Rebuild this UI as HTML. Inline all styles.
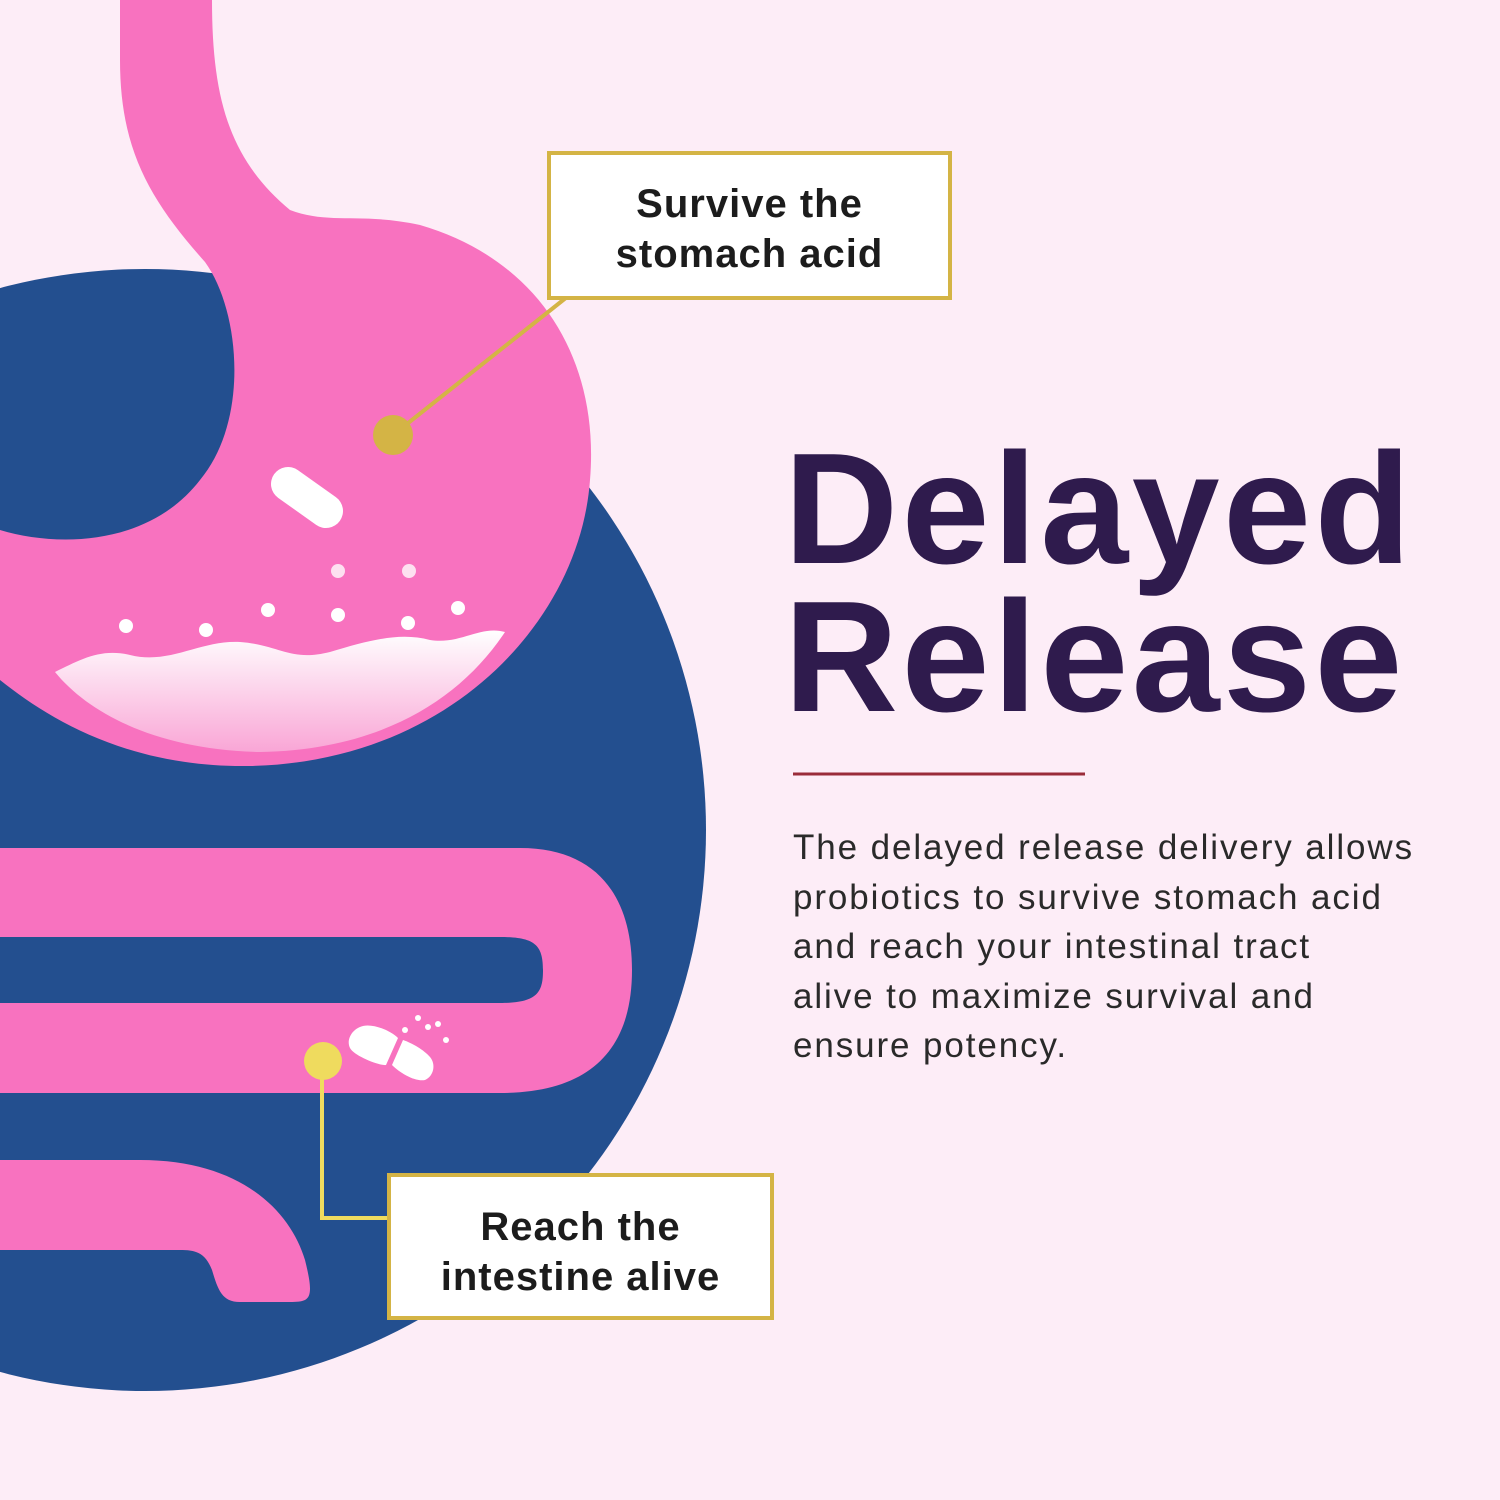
<!DOCTYPE html>
<html><head><meta charset="utf-8"><style>
html,body{margin:0;padding:0;}
body{width:1500px;height:1500px;background:#fdedf7;position:relative;overflow:hidden;font-family:"Liberation Sans",sans-serif;}
svg{position:absolute;left:0;top:0;}
.box{position:absolute;background:#fff;border:4px solid #d4b445;box-sizing:border-box;text-align:center;font-size:40px;font-weight:bold;letter-spacing:1px;line-height:50px;color:#1c1c1c;}
.title{position:absolute;left:784px;color:#2f1b4d;font-weight:bold;font-size:158px;letter-spacing:3.5px;white-space:nowrap;line-height:1;}
.para{position:absolute;left:793px;top:823px;font-size:35px;letter-spacing:1.9px;line-height:49.5px;color:#2a2a2a;white-space:nowrap;}
</style></head><body>
<svg width="1500" height="1500" viewBox="0 0 1500 1500">
<defs>
<linearGradient id="liq" x1="0" y1="0" x2="0" y2="1">
<stop offset="0" stop-color="#ffffff"/><stop offset="1" stop-color="#f9a6d6"/>
</linearGradient>
</defs>
<circle cx="145" cy="830" r="561" fill="#234f8f"/>
<path d="M120 0 L212 0 C212 100 230 160 290 210 C330 225 360 212 420 225 C540 260 600 360 590 480 C580 620 450 762 250 766 C130 768 50 720 0 680 L0 530 C60 548 150 545 200 480 C250 420 240 310 205 262 C150 200 120 150 120 60 Z" fill="#f872bf"/>
<path d="M55 672 C80 660 100 648 130 655 C170 665 200 640 240 642 C280 645 290 662 330 652 C370 640 400 632 430 640 C460 645 480 625 505 632 C460 700 380 750 260 752 C160 750 90 715 55 672 Z" fill="url(#liq)"/>
<g fill="#fff">
<circle cx="126" cy="626" r="7"/><circle cx="206" cy="630" r="7"/><circle cx="268" cy="610" r="7"/>
<circle cx="338" cy="615" r="7"/><circle cx="408" cy="623" r="7"/><circle cx="458" cy="608" r="7"/>
<circle cx="338" cy="571" r="7" fill="#fde0f0"/><circle cx="409" cy="571" r="7" fill="#fde0f0"/>
<line x1="288" y1="484" x2="326" y2="511" stroke="#fff" stroke-width="34" stroke-linecap="round"/>
</g>
<path d="M0 848 L520 848 C600 848 632 900 632 970 C632 1050 590 1093 500 1093 L0 1093 L0 1003 L500 1003 C538 1003 543 992 543 970 C543 945 535 937 500 937 L0 937 Z" fill="#f872bf"/>
<path d="M0 1160 L140 1160 C240 1160 290 1210 305 1260 C315 1300 310 1302 290 1302 L240 1302 C222 1302 218 1290 212 1270 C205 1252 195 1250 180 1250 L0 1250 Z" fill="#f872bf"/>
<g fill="#fff">
<path d="M360 1027 C352 1030 346 1040 350 1048 C354 1056 380 1066 386 1065 L398 1038 C390 1030 370 1022 360 1027 Z"/>
<path d="M403 1040 L392 1065 C400 1073 415 1082 425 1080 C434 1076 436 1064 430 1057 C424 1050 412 1043 403 1040 Z"/>
<circle cx="418" cy="1018" r="3"/><circle cx="428" cy="1027" r="3"/><circle cx="438" cy="1024" r="3"/><circle cx="405" cy="1030" r="3"/><circle cx="446" cy="1040" r="3"/>
</g>
<line x1="567" y1="297" x2="393" y2="435" stroke="#d4b445" stroke-width="4"/>
<circle cx="393" cy="435" r="20" fill="#d4b445"/>
<polyline points="322,1062 322,1218 390,1218" fill="none" stroke="#efdb5e" stroke-width="4"/>
<circle cx="323" cy="1061" r="19" fill="#efdb5e"/>
<line x1="793" y1="774" x2="1085" y2="774" stroke="#9a2c3a" stroke-width="3"/>
</svg>
<div class="box" style="left:547px;top:151px;width:405px;height:149px;padding-top:24px;">Survive the<br>stomach acid</div>
<div class="box" style="left:387px;top:1173px;width:387px;height:147px;padding-top:25px;">Reach the<br>intestine alive</div>
<div class="title" style="top:430px;">Delayed</div>
<div class="title" style="top:578px;">Release</div>
<div class="para">The delayed release delivery allows<br>probiotics to survive stomach acid<br>and reach your intestinal tract<br>alive to maximize survival and<br>ensure potency.</div>
</body></html>
